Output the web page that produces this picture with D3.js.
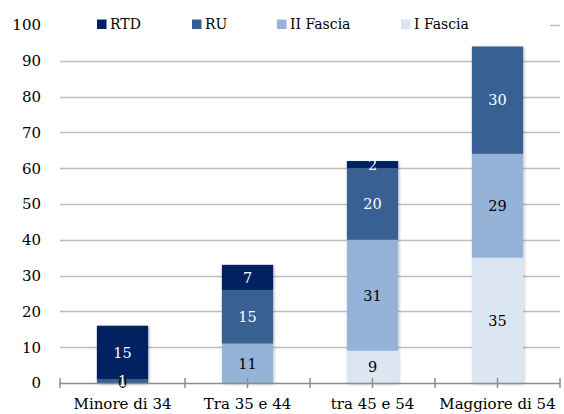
<!DOCTYPE html>
<html>
<head>
<meta charset="utf-8">
<script src="https://cdn.jsdelivr.net/npm/d3@7"></script>
<style>
  html, body { margin: 0; padding: 0; background: #fff; }
  svg { display: block; font-family: "DejaVu Serif", serif; }
</style>
</head>
<body>
<svg id="chart" width="564" height="414"></svg>
<script>
// Age groups on the x axis
const categories = ["Minore di 34", "Tra 35 e 44", "tra 45 e 54", "Maggiore di 54"];

// Stacked series, bottom to top (null = no value for that group)
const iFascia  = [null, null, 9, 35];
const iiFascia = [0, 11, 31, 29];
const ru       = [1, 15, 20, 30];
const rtd      = [15, 7, 2, null];

const seriesNames  = ["I Fascia", "II Fascia", "RU", "RTD"];
const seriesValues = [iFascia, iiFascia, ru, rtd];
const seriesColors = ["#dce6f2", "#95b3d7", "#376092", "#002060"];
const labelColors  = ["#000", "#000", "#fff", "#fff"];

// Legend order as shown above the plot
const legendOrder = ["RTD", "RU", "II Fascia", "I Fascia"];

const yTicks = [0, 10, 20, 30, 40, 50, 60, 70, 80, 90, 100];

const svg = d3.select("#chart");

const x = d3.scaleBand()
  .domain(categories)
  .range([60, 560])
  .paddingInner(0.59)
  .paddingOuter(0.295);

const y = d3.scaleLinear().domain([0, 100]).range([383, 25]);

// soft drop shadow for the columns
const defs = svg.append("defs");
const f = defs.append("filter").attr("id", "shadow")
  .attr("x", "-20%").attr("y", "-20%").attr("width", "140%").attr("height", "140%");
f.append("feDropShadow").attr("dx", 1).attr("dy", 1).attr("stdDeviation", 1.4)
  .attr("flood-color", "#000").attr("flood-opacity", 0.28);

// horizontal gridlines
svg.append("g").selectAll("line")
  .data(yTicks.filter(d => d > 0))
  .join("line")
  .attr("x1", 60).attr("x2", 560)
  .attr("y1", d => Math.round(y(d)) + 0.5).attr("y2", d => Math.round(y(d)) + 0.5)
  .attr("stroke", "#bdbdbd").attr("stroke-width", 1.5);

// y axis labels
const yAxis = d3.axisLeft(y).tickValues(yTicks).tickSize(0).tickPadding(0);
const gy = svg.append("g").attr("transform", "translate(41,0)").call(yAxis);
gy.select(".domain").remove();
gy.selectAll("text")
  .attr("font-family", "DejaVu Serif, serif")
  .attr("font-size", 15).attr("fill", "#000");

// stacked columns
const table = categories.map((c, i) => {
  const row = { cat: c };
  seriesNames.forEach((s, k) => { row[s] = seriesValues[k][i] == null ? 0 : seriesValues[k][i]; });
  return row;
});
const stacked = d3.stack().keys(seriesNames)(table);

const barsG = svg.append("g").attr("filter", "url(#shadow)");
stacked.forEach((layer, k) => {
  barsG.append("g").selectAll("rect")
    .data(layer.filter(d => d[1] > d[0]))
    .join("rect")
    .attr("x", d => x(d.data.cat))
    .attr("width", x.bandwidth())
    .attr("y", d => y(d[1]))
    .attr("height", d => y(d[0]) - y(d[1]))
    .attr("fill", seriesColors[k]);
});

// x axis line and cross ticks (category centres and boundaries)
const axisY = 383;
svg.append("line")
  .attr("x1", 60).attr("x2", 560).attr("y1", axisY + 0.5).attr("y2", axisY + 0.5)
  .attr("stroke", "#8c8c8c").attr("stroke-width", 1.5);
const step = x.step();
const tickXs = d3.range(0, categories.length * 2 + 1).map(i => 60 + i * step / 2);
svg.append("g").selectAll("line")
  .data(tickXs)
  .join("line")
  .attr("x1", d => d).attr("x2", d => d)
  .attr("y1", axisY - 5).attr("y2", axisY + 5)
  .attr("stroke", "#8c8c8c").attr("stroke-width", 1.5);

// category labels
const xAxis = d3.axisBottom(x).tickSize(0).tickPadding(0);
const gx = svg.append("g").attr("transform", "translate(0,398)").call(xAxis);
gx.select(".domain").remove();
gx.selectAll("text")
  .attr("font-family", "DejaVu Serif, serif")
  .attr("font-size", 15).attr("fill", "#000");

// value labels
stacked.forEach((layer, k) => {
  svg.append("g").selectAll("text")
    .data(layer.filter((d, i) => seriesValues[k][i] != null))
    .join("text")
    .attr("x", d => x(d.data.cat) + x.bandwidth() / 2)
    .attr("y", d => y((d[0] + d[1]) / 2))
    .attr("dy", "0.36em")
    .attr("text-anchor", "middle")
    .attr("font-size", 14.5)
    .attr("fill", labelColors[k])
    .text((d, i) => d[1] - d[0]);
});

// legend on a white box over the top gridline
const legendItems = legendOrder.map(n => ({ name: n, color: seriesColors[seriesNames.indexOf(n)] }));
const legendX = [97, 192, 277, 401];
svg.append("rect").attr("x", 60).attr("y", 12).attr("width", 490).attr("height", 26).attr("fill", "#fff");
const lg = svg.append("g").selectAll("g").data(legendItems).join("g")
  .attr("transform", (d, i) => `translate(${legendX[i]},0)`);
lg.append("rect").attr("x", 0).attr("y", 19.5).attr("width", 9.5).attr("height", 9.5)
  .attr("fill", d => d.color);
lg.append("text").attr("x", 13).attr("y", 29)
  .attr("font-size", 14).attr("fill", "#000")
  .text(d => d.name);
</script>
</body>
</html>
